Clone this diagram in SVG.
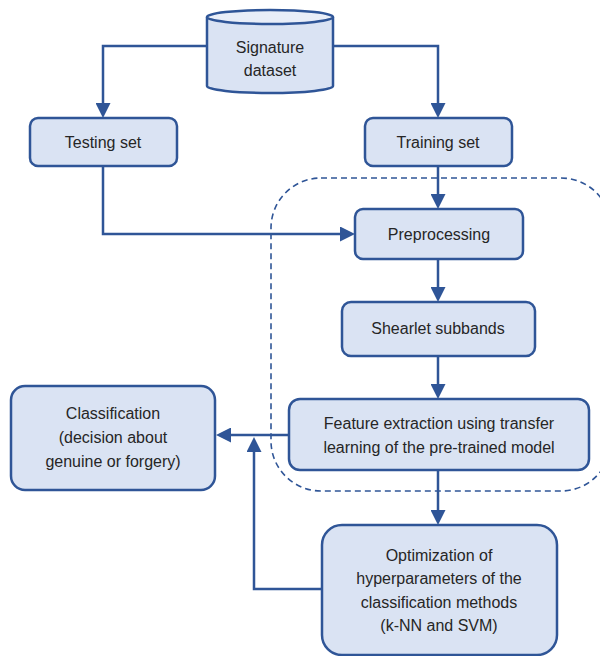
<svg xmlns="http://www.w3.org/2000/svg" width="600" height="656" viewBox="0 0 600 656">
<style>
.box{fill:#dae3f3;stroke:#2f5597;stroke-width:2.5}
.txt{font-family:"Liberation Sans",Arial,sans-serif;font-size:16px;fill:#262626;text-anchor:middle;dominant-baseline:central}
.con{fill:none;stroke:#2f5597;stroke-width:2.5}
</style>
<defs>
<marker id="arr" markerUnits="userSpaceOnUse" markerWidth="15" markerHeight="15" viewBox="0 0 15 15" refX="7" refY="7.5" orient="auto">
<path d="M0,0 L15,7.5 L0,15 z" fill="#2f5597"/>
</marker>
</defs>
<rect x="271" y="178" width="340" height="313" rx="50" fill="none" stroke="#2f5597" stroke-width="1.6" stroke-dasharray="6 4"/>
<g id="connectors">
<path class="con" d="M207,46 H103 V110" marker-end="url(#arr)"/>
<path class="con" d="M333,46 H438 V110" marker-end="url(#arr)"/>
<path class="con" d="M103,166 V234 H347" marker-end="url(#arr)"/>
<path class="con" d="M438,166 V201" marker-end="url(#arr)"/>
<path class="con" d="M438,259 V294" marker-end="url(#arr)"/>
<path class="con" d="M438,356 V391" marker-end="url(#arr)"/>
<path class="con" d="M438,470 V517" marker-end="url(#arr)"/>
<path class="con" d="M289,435 H224" marker-end="url(#arr)"/>
<path class="con" d="M322,589 H254 V445" marker-end="url(#arr)"/>
</g>
<g id="dataset">
<path class="box" d="M207,17 V86 A63,7 0 0 0 333,86 V17"/>
<ellipse cx="270" cy="17" rx="63" ry="7" fill="#e9eef8" stroke="#2f5597" stroke-width="2.5"/>
<text class="txt" x="270" y="47">Signature</text>
<text class="txt" x="270" y="70">dataset</text>
</g>
<g id="testing">
<rect class="box" x="30" y="118" width="147" height="48" rx="8"/>
<text class="txt" x="103" y="142">Testing set</text>
</g>
<g id="training">
<rect class="box" x="365" y="118" width="147" height="48" rx="8"/>
<text class="txt" x="438" y="142">Training set</text>
</g>
<g id="preprocessing">
<rect class="box" x="355" y="209" width="168" height="50" rx="8"/>
<text class="txt" x="439" y="234">Preprocessing</text>
</g>
<g id="shearlet">
<rect class="box" x="342" y="302" width="193" height="54" rx="9"/>
<text class="txt" x="438" y="328">Shearlet subbands</text>
</g>
<g id="feature">
<rect class="box" x="289" y="399" width="300" height="71" rx="11"/>
<text class="txt" x="439" y="423">Feature extraction using transfer</text>
<text class="txt" x="439" y="447">learning of the pre-trained model</text>
</g>
<g id="classification">
<rect class="box" x="11" y="386" width="204" height="104" rx="14"/>
<text class="txt" x="113" y="413">Classification</text>
<text class="txt" x="113" y="437">(decision about</text>
<text class="txt" x="113" y="461">genuine or forgery)</text>
</g>
<g id="optimization">
<rect class="box" x="322" y="525" width="235" height="130" rx="20"/>
<text class="txt" x="439" y="555">Optimization of</text>
<text class="txt" x="439" y="578">hyperparameters of the</text>
<text class="txt" x="439" y="602">classification methods</text>
<text class="txt" x="439" y="625">(k-NN and SVM)</text>
</g>
</svg>
